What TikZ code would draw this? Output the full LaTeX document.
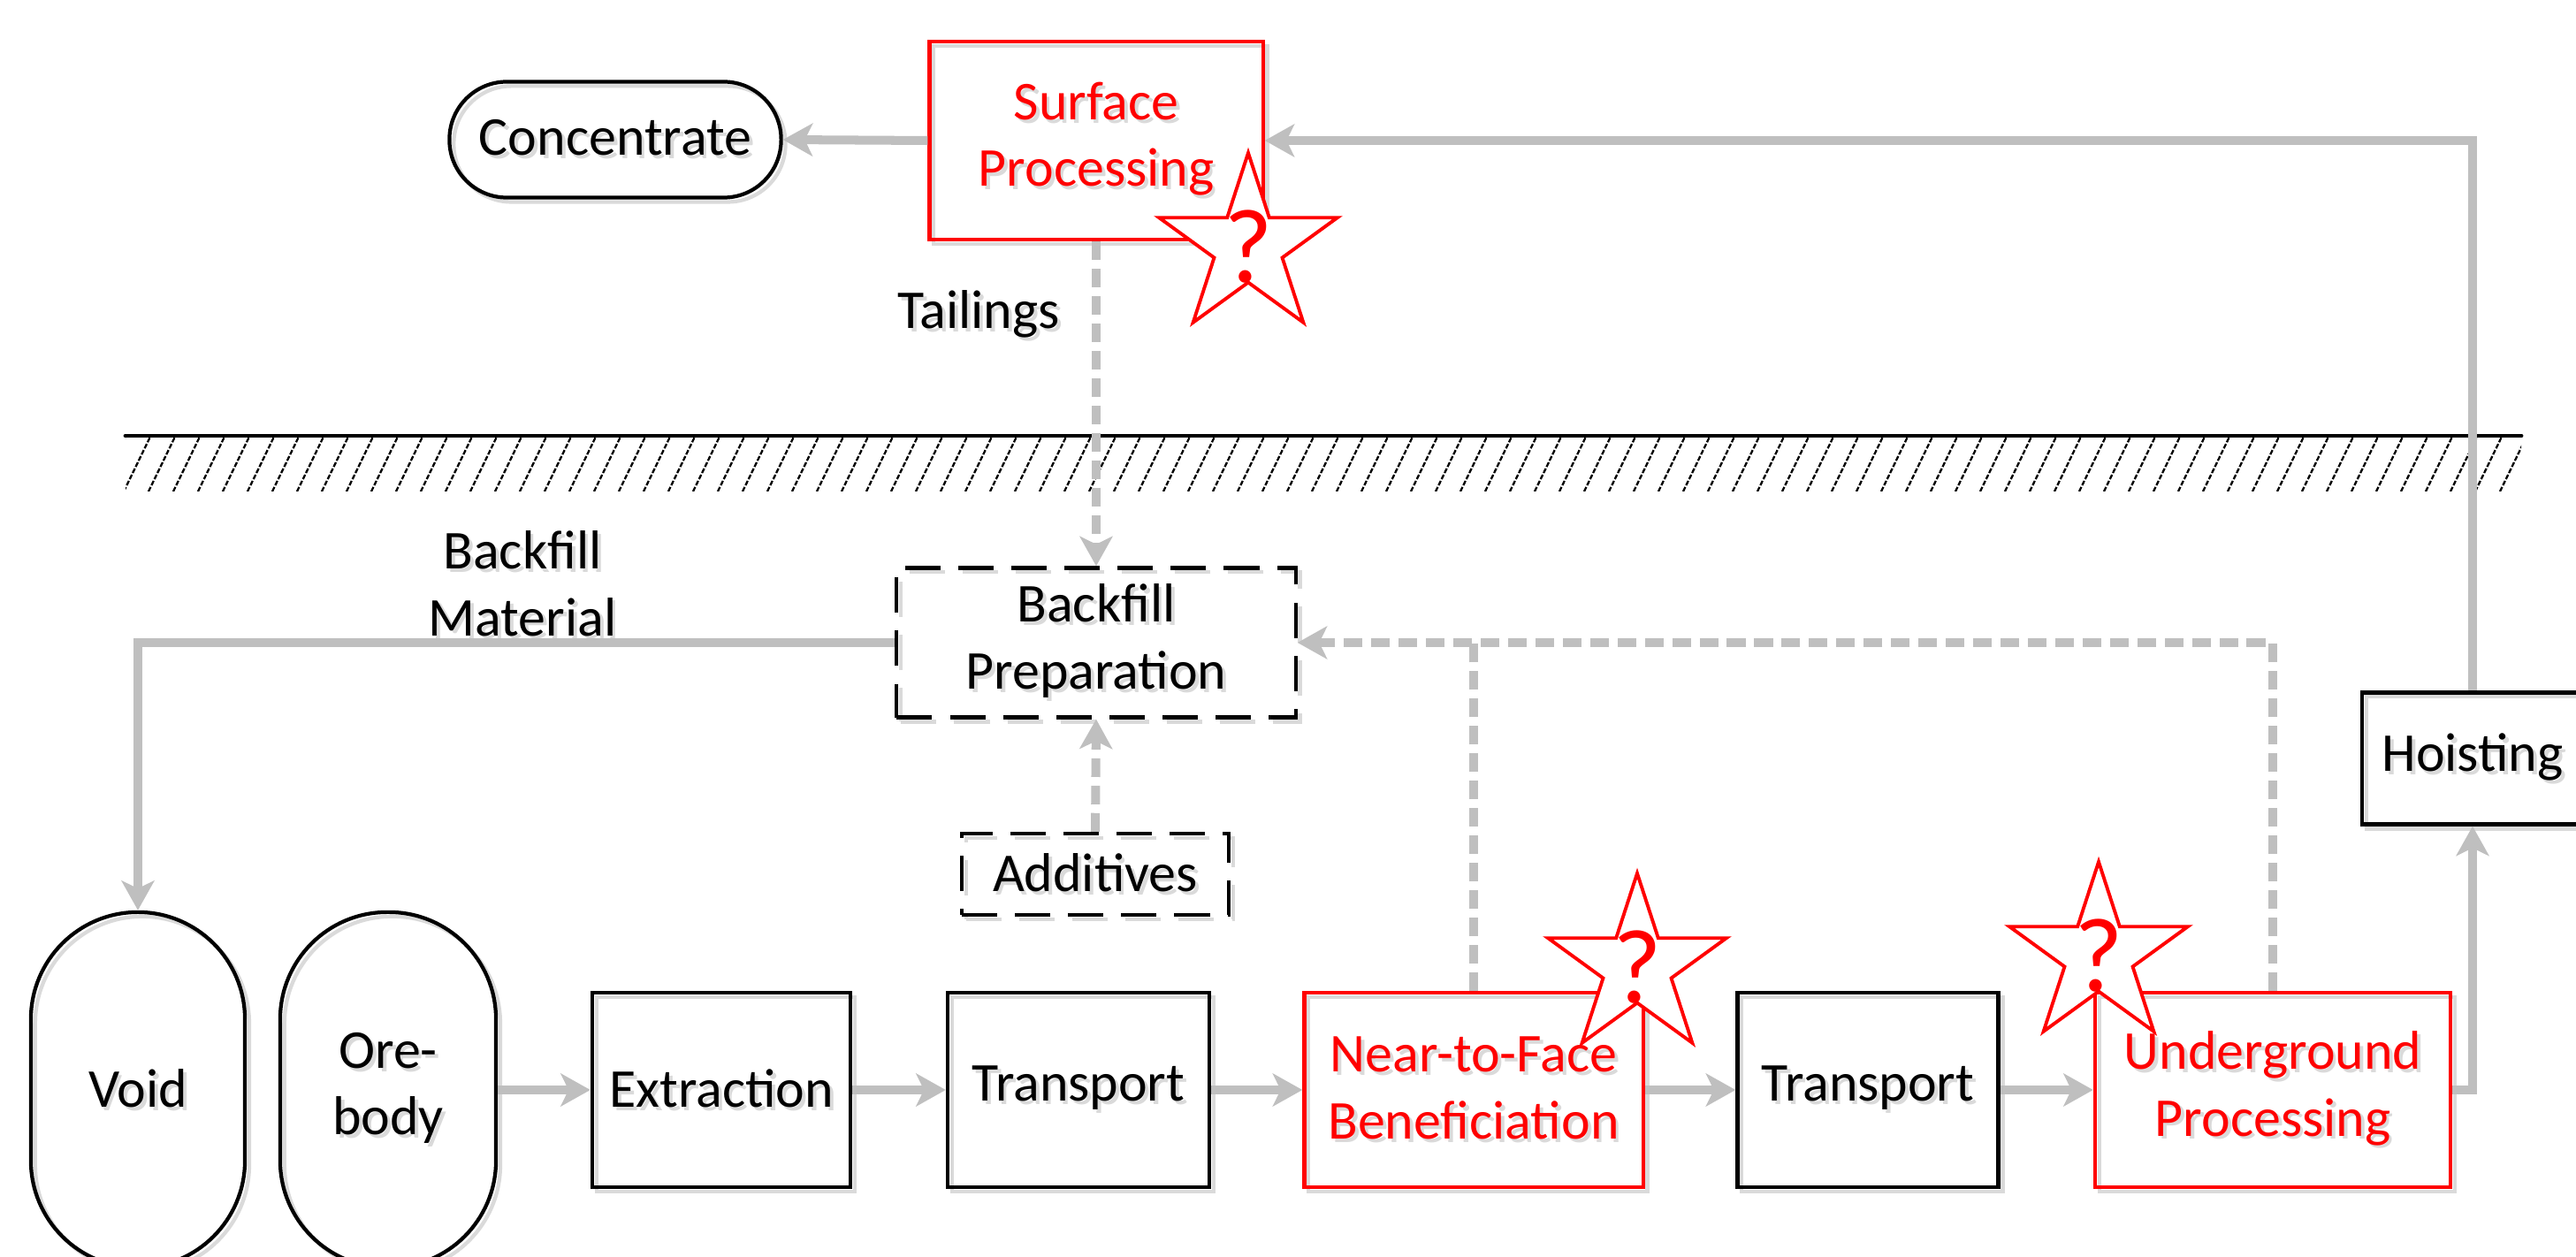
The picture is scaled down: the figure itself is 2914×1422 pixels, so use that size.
\documentclass[tikz,border=0pt]{standalone}
\usepackage{fontspec}
\setmainfont{Carlito}
\usetikzlibrary{arrows.meta,shapes.geometric,calc}
\definecolor{conn}{HTML}{BFBFBF}
\definecolor{shd}{HTML}{DADADA}
\definecolor{redc}{HTML}{FF0000}
\newcommand\shtx[1]{\leavevmode\rlap{\kern1.1pt\raisebox{-1.1pt}{\textcolor{shd}{#1}}}#1}
\begin{document}
\begin{tikzpicture}[x=0.01cm,y=-0.01cm,
  font=\fontsize{17.6}{21.5}\selectfont,
  box/.style={draw=black, line width=1.2pt, rectangle, inner sep=0pt, align=center,
     preaction={draw=shd, transform canvas={shift={(1.4pt,-1.4pt)}}}},
  redbox/.style={box, draw=redc, text=redc},
  dbox/.style={box, dash pattern=on 11.4pt off 5.7pt},
  lbl/.style={inner sep=0pt, align=center},
  tip/.style={-{Stealth[length=9.5pt,width=10.5pt,inset=2.5pt]}},
  conn/.style={draw=conn, line width=2.85pt, tip},
  conndash/.style={conn, dash pattern=on 6pt off 2.8pt},
  qstar/.style={star, star points=5, star point ratio=2.618, minimum size=2.12cm,
     draw=redc, fill=white, line width=1.1pt, inner sep=0pt,
     label={[text=redc, inner sep=0pt, font=\fontsize{34}{34}\selectfont]center:?}},
  hatch/.style={line width=0.65pt, dash pattern=on 1.6pt off 0.6pt}
]
\useasboundingbox (0,0) rectangle (2914,1422);
\clip (0,0) rectangle (2914,1422);

% ground
\begin{scope}
  \clip (142,496) rectangle (2852,556);
  \foreach \x in {112,140,...,2880} \draw[hatch] (\x,556) -- (\x+30,494);
\end{scope}
\draw[line width=1.4pt, line cap=round] (142,493) coordinate (g1) -- (2852,493) coordinate (g2);

% nodes
\node[box, rounded corners=0.65cm, minimum width=3.75cm, minimum height=1.31cm] (conc) at (696,158) {\shtx{Concentrate}};
\node[redbox, minimum width=3.77cm, minimum height=2.24cm] (sp) at (1240,159) {\shtx{Surface}\\\shtx{Processing}};
\node[lbl, anchor=base] (tail) at (1107,372) {\shtx{Tailings}};
\node[lbl] (bfm) at (591,662) {\shtx{Backfill}\\\shtx{Material}};
\node[dbox, minimum width=4.51cm, minimum height=1.69cm] (bp) at (1240,727) {\shtx{Backfill}\\\shtx{Preparation}};
\node[dbox, minimum width=3.02cm, minimum height=0.92cm] (add) at (1239,989) {\shtx{Additives}};
\node[box, rounded corners=1.21cm, minimum width=2.42cm, minimum height=4.02cm] (void) at (156,1233) {\shtx{Void}};
\node[box, rounded corners=1.21cm, minimum width=2.44cm, minimum height=4.02cm] (ore) at (439,1233) {\shtx{Ore-}\\\shtx{body}};
\node[box, minimum width=2.92cm, minimum height=2.2cm] (ext) at (816,1233) {\shtx{Extraction}};
\node[box, minimum width=2.96cm, minimum height=2.2cm] (t1) at (1220,1233) {\shtx{Transport}};
\node[redbox, minimum width=3.83cm, minimum height=2.2cm] (ntf) at (1667,1233) {\shtx{Near-to-Face}\\\shtx{Beneficiation}};
\node[box, minimum width=2.95cm, minimum height=2.2cm] (t2) at (2113,1233) {\shtx{Transport}};
\node[redbox, minimum width=4.02cm, minimum height=2.2cm] (up) at (2571,1233) {\shtx{Underground}\\\shtx{Processing}};
\node[box, minimum width=2.5cm, minimum height=1.49cm] (hoist) at (2797,858) {\shtx{Hoisting}};

% connectors
\draw[conn] (sp.west) -- (conc.east);
\draw[conndash] (sp.south) -- (bp.north);
\draw[conndash] (add.north) -- (bp.south);
\draw[conndash] (up.north) |- (bp.east);
\draw[conndash, -] (ntf.north) -- (ntf.north |- bp.east);
\draw[conn] (bp.west) -| (void.north);
\draw[conn] (ore.east) -- (ext.west);
\draw[conn] (ext.east) -- (t1.west);
\draw[conn] (t1.east) -- (ntf.west);
\draw[conn] (ntf.east) -- (t2.west);
\draw[conn] (t2.east) -- (up.west);
\draw[conn] (up.east) -| (hoist.south);
\draw[conn] (hoist.north) |- (sp.east);

% stars
\node[qstar] (s1) at (1412,279) {};
\node[qstar] (s2) at (1852,1094) {};
\node[qstar] (s3) at (2374,1081) {};
\end{tikzpicture}
\end{document}
